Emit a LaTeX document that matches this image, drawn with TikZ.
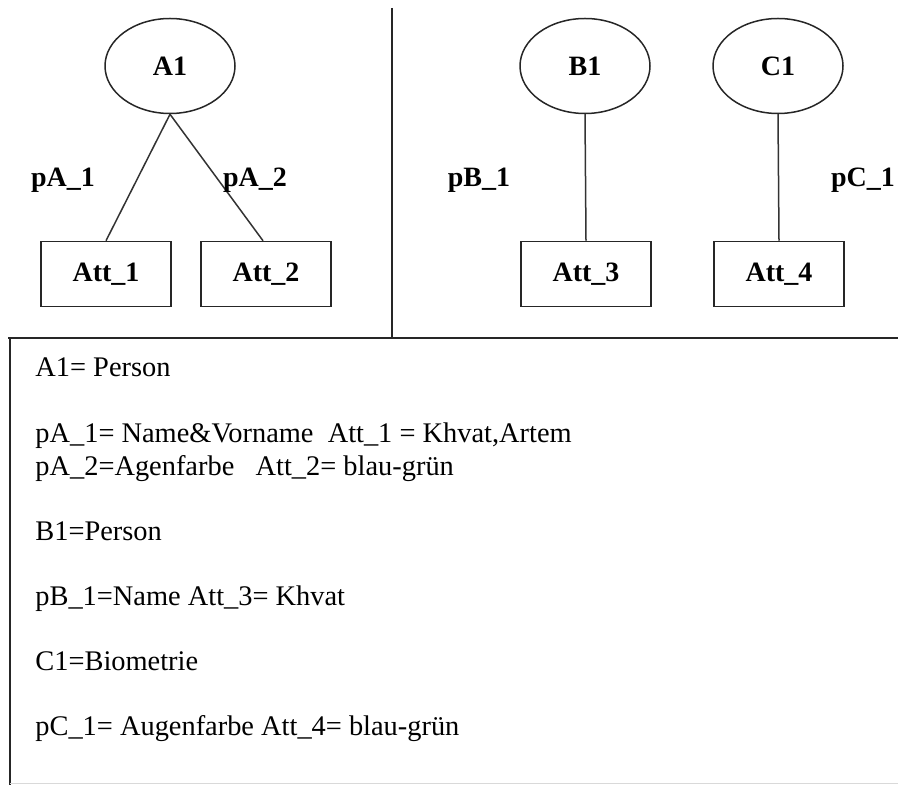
\documentclass[tikz,border=0pt]{standalone}
\usepackage{fontspec}
\setmainfont{Liberation Serif}
\usetikzlibrary{shapes.geometric}

\begin{document}
\begin{tikzpicture}[x=0.5pt, y=-0.5pt,
    klasse/.style={draw=black!85, ellipse, line width=0.75pt,
                   minimum width=65pt, minimum height=47.5pt, inner sep=0pt,
                   font=\fontsize{14}{16}\selectfont\bfseries},
    attr/.style={draw=black!85, rectangle, line width=0.75pt,
                 minimum width=65pt, minimum height=32.5pt, inner sep=0pt,
                 font=\fontsize{14}{16}\selectfont\bfseries},
    prop/.style={anchor=base, inner sep=0pt, font=\fontsize{14}{16}\selectfont\bfseries},
    kante/.style={draw=black!80, line width=0.75pt},
    legende/.style={anchor=base west, inner sep=0pt, font=\fontsize{14.2}{16}\selectfont},
    rahmen/.style={draw=black!85, line width=1pt}
  ]
    \useasboundingbox (0,0) rectangle (898,785);

    % Klasse A
    \node[klasse] (a1) at (170,66) {A1};
    \node[attr] (att1) at (106,274) {Att\_1};
    \node[attr] (att2) at (266,274) {Att\_2};
    \draw[kante] (a1.south) -- (att1.north);
    \draw[kante] (a1.south) -- ([xshift=-1.5pt]att2.north);
    \node[prop] (pa1) at (63,187) {pA\_1};
    \node[prop] (pa2) at (255,187) {pA\_2};

    % Klassen B und C
    \node[klasse] (b1) at (585,66) {B1};
    \node[klasse] (c1) at (778,66) {C1};
    \node[attr] (att3) at (586,274) {Att\_3};
    \node[attr] (att4) at (779,274) {Att\_4};
    \draw[kante] (b1.south) -- (att3.north);
    \draw[kante] (c1.south) -- (att4.north);
    \node[prop] (pb1) at (479,187) {pB\_1};
    \node[prop] (pc1) at (863,187) {pC\_1};

    % Trennlinien und Legendenrahmen
    \draw[rahmen] (392,8) -- (392,338);
    \draw[rahmen] (8,338) -- (898,338);
    \draw[rahmen] (10,338) -- (10,785);
    \draw[black!15, line width=0.5pt] (10,783) -- (898,783);

    % Legende
    \node[legende] (l1) at (35,377) {A1= Person};
    \node[legende] (l2) at (35,443) {pA\_1= Name\&Vorname\ \ Att\_1 = Khvat,Artem};
    \node[legende] (l3) at (35,475) {pA\_2=Agenfarbe\ \ \ Att\_2= blau-grün};
    \node[legende] (l4) at (35,540) {B1=Person};
    \node[legende] (l5) at (35,605) {pB\_1=Name Att\_3= Khvat};
    \node[legende] (l6) at (35,670) {C1=Biometrie};
    \node[legende] (l7) at (35,735) {pC\_1= Augenfarbe Att\_4= blau-grün};
\end{tikzpicture}
\end{document}
